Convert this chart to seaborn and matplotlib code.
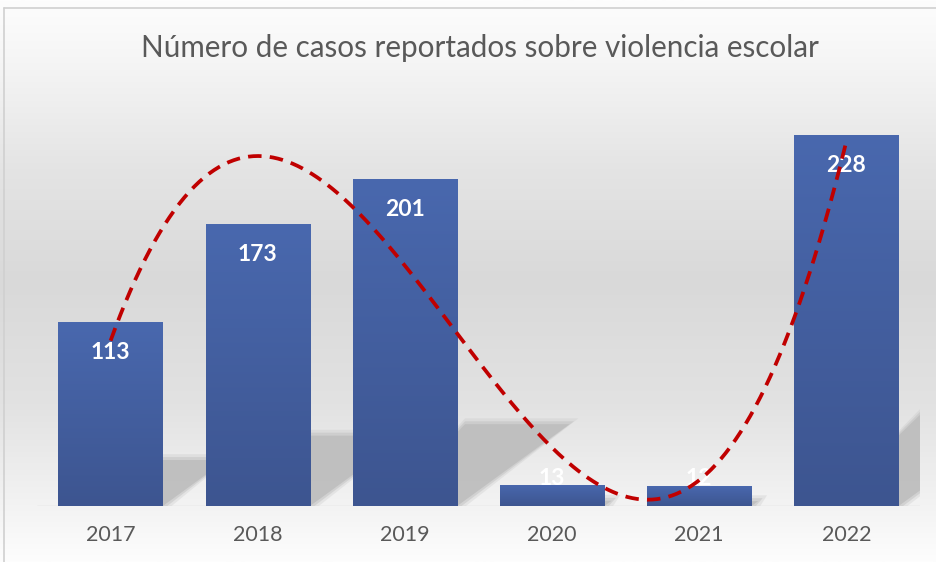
import numpy as np
import pandas as pd
import matplotlib
matplotlib.use("Agg")
import matplotlib.pyplot as plt
import seaborn as sns
from matplotlib.colors import LinearSegmentedColormap
from matplotlib.patches import Polygon
from matplotlib.lines import Line2D

# ----------------------
# Data
# ----------------------
years = ["2017", "2018", "2019", "2020", "2021", "2022"]
cases = [113, 173, 201, 13, 12, 228]
title = "Número de casos reportados sobre violencia escolar"

df = pd.DataFrame({"year": years, "cases": cases})

sns.set_theme(style="white")
plt.rcParams["font.family"] = ["Lato", "DejaVu Sans"]

fig = plt.figure(figsize=(9.37, 5.62), dpi=100)

# background gradient (white -> grey -> white), like the Excel chart area
bg = fig.add_axes([0, 0, 1, 1], zorder=-10)
bg_cmap = LinearSegmentedColormap.from_list(
    "bg", [(0.0, "#fdfdfd"), (0.1, "#f6f6f6"), (0.3, "#e4e4e4"),
           (0.5, "#d9d9d9"), (0.72, "#e2e2e2"), (0.9, "#f3f3f3"), (1.0, "#fdfdfd")])
bg.imshow(np.linspace(0, 1, 256).reshape(-1, 1), aspect="auto", cmap=bg_cmap,
          extent=[0, 1, 0, 1], origin="upper")
bg.set_xlim(0, 1)
bg.set_ylim(0, 1)
bg.axis("off")
# chart border (left and top visible)
fig.add_artist(Line2D([4 / 937, 4 / 937], [0, 1 - 8 / 562], transform=fig.transFigure,
                      color="#d0d0d0", lw=1.2))
fig.add_artist(Line2D([4 / 937, 1], [1 - 8 / 562, 1 - 8 / 562], transform=fig.transFigure,
                      color="#d0d0d0", lw=1.2))

ax = fig.add_axes([37 / 937, 1 - 506 / 562, (920 - 37) / 937, (506 - 99) / 562])
ax.patch.set_alpha(0)

sns.barplot(data=df, x="year", y="cases", color="#4462a5", width=0.71,
            saturation=1, linewidth=0, ax=ax, zorder=3)
ax.set_ylim(0, 250)
ax.set_xlim(-0.5, len(years) - 0.5)

# bar gradient + perspective shadow
bar_cmap = LinearSegmentedColormap.from_list("bar", ["#3d5590", "#4968ae"])
grad = np.linspace(0, 1, 128).reshape(-1, 1)
for p in ax.patches[:len(years)]:
    x0, w, h = p.get_x(), p.get_width(), p.get_height()
    im = ax.imshow(grad, aspect="auto", cmap=bar_cmap, origin="lower",
                   extent=[x0, x0 + w, 0, h], zorder=4)
    im.set_clip_path(p)
    shift, k = 0.0038 * h, 0.25 * h
    for grow, a in [(0.06, 0.25), (0.03, 0.45), (0.0, 0.85)]:
        shadow = Polygon([(x0 + w * 0.3, 0), (x0 + w + grow, 0),
                          (x0 + w + shift + grow, k + grow * 60),
                          (x0 + shift, k + grow * 60)],
                         closed=True, facecolor="#bdbdbd", edgecolor="none",
                         alpha=a, zorder=2)
        ax.add_patch(shadow)
ax.set_xlim(-0.5, len(years) - 0.5)
ax.set_ylim(0, 250)

# value labels (inside end)
px_per_unit = ax.transData.transform((0, 1))[1] - ax.transData.transform((0, 0))[1]
for i, v in enumerate(cases):
    if v * px_per_unit > 57:
        ax.annotate(str(v), (i, v), xytext=(0, -22), textcoords="offset points",
                    ha="center", va="center", color="white", fontsize=16.5,
                    fontweight="bold", zorder=6)
    else:
        ax.annotate(str(v), (i, 0), xytext=(0, 20), textcoords="offset points",
                    ha="center", va="center", color="white", fontsize=16.5,
                    fontweight="bold", zorder=6)

# cubic polynomial trendline
xs = np.arange(len(cases))
coef = np.polyfit(xs, cases, 3)
xx = np.linspace(xs[0], xs[-1], 300)
ax.plot(xx, np.polyval(coef, xx), color="#c00000", lw=2.7, ls=(0, (3.6, 2.2)),
        zorder=7, clip_on=False)

ax.axhline(0, color="#d9d9d9", lw=1, zorder=1)
sns.despine(ax=ax, left=True, bottom=True)
ax.set_xlabel("")
ax.set_ylabel("")
ax.set_yticks([])
ax.tick_params(axis="x", length=0, pad=14, labelsize=15.5, labelcolor="#595959")

fig.text(480 / 937, 1 - 48 / 562, title, ha="center", va="center", fontsize=21.3,
         color="#595959")

plt.savefig("out.png", dpi=100)
